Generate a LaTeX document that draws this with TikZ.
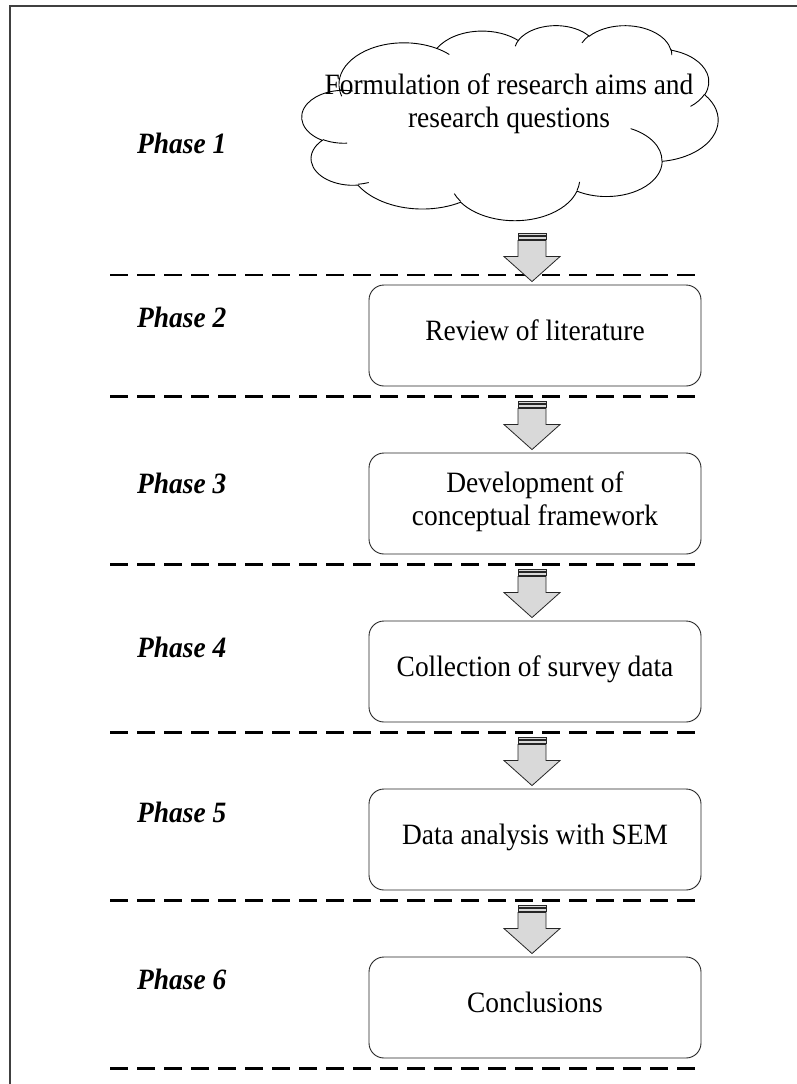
\documentclass[tikz,border=0pt]{standalone}
\usepackage{fontspec}
\setmainfont{Liberation Serif}[FakeStretch=0.93]
\usetikzlibrary{calc}
\newcommand\cldarc[4]{arc[x radius=#1, y radius=#2, start angle={atan2((#1)*sin(#3),(#2)*cos(#3))}, delta angle={mod(atan2((#1)*sin((#3)+(#4)),(#2)*cos((#3)+(#4)))-atan2((#1)*sin(#3),(#2)*cos(#3))+720,360)}]}
\tikzset{
  stepbox/.style={draw=black!85, line width=0.9pt, rounded corners=15pt, minimum width=332pt, minimum height=101pt, inner sep=0pt, align=center, font=\fontsize{29.5}{32.5}\selectfont, execute at end node={\rule[-10pt]{0pt}{0pt}}},
  phaselbl/.style={anchor=west, inner sep=0pt, font=\fontsize{29.5}{32.5}\selectfont\bfseries\itshape},
  divider/.style={line width=2.1pt, dash pattern=on 18pt off 9pt},
  frameline/.style={line width=1.2pt, draw=black!75},
  arrowfill/.style={fill=black!15, draw=black!85, line width=0.8pt},
  striped/.pic={
    \path[arrowfill] (-14,0) rectangle (14,1.8);
    \path[arrowfill] (-14,2.8) rectangle (14,5.6);
    \path[arrowfill] (-14,7) -- (-14,23) -- (-28,23) -- (0,48) -- (28,23) -- (14,23) -- (14,7) -- cycle;
  }
}
\begin{document}
\begin{tikzpicture}[x=1pt, y=-1pt]
\useasboundingbox (0,0) rectangle (797,1084);
% frame
\draw[frameline] (10,1084) -- (10,6) -- (797,6);
% cloud
\begin{scope}[shift={(302,25)}]
\begin{scope}[x=0.96296pt, y=-0.45139pt]
\draw[black, line width=0.9pt, fill=white] (39.00,143.70)
  \cldarc{67.53}{91.90}{-190.4875}{123.7805}
  \cldarc{53.33}{72.67}{-144.1024}{89.9452}
  \cldarc{43.65}{59.45}{-145.8079}{99.7230}
  \cldarc{48.57}{65.95}{-130.9861}{117.2417}
  \cldarc{53.33}{72.73}{-78.7089}{109.0269}
  \cldarc{67.75}{92.20}{-46.2673}{130.2690}
  \cldarc{57.85}{78.67}{0.6250}{114.0333}
  \cldarc{67.52}{92.15}{22.4516}{115.1726}
  \cldarc{77.20}{105.43}{66.2426}{75.7110}
  \cldarc{43.60}{59.18}{-274.9421}{146.7356}
  \cldarc{43.45}{59.45}{-246.8285}{166.4307}
  -- cycle;
\draw[black, line width=0.9pt]
  (46.93,261.77) \cldarc{43.45}{59.45}{86.7420}{26.4295}
  (69.28,348.99) \cldarc{43.60}{59.18}{73.6105}{11.4475}
  (164.78,390.90) \cldarc{67.52}{92.15}{137.6242}{14.0811}
  (288.27,347.51) \cldarc{67.52}{92.15}{6.4533}{15.9984}
  (341.29,229.54) \cldarc{57.85}{78.67}{-70.2924}{70.9174}
  (417.98,153.54) \cldarc{53.33}{72.73}{30.3180}{27.7515}
  (383.24,54.26) \cldarc{48.57}{65.95}{-13.7443}{14.8589}
  (290.78,39.52) \cldarc{48.57}{65.95}{-149.1815}{18.1954}
  (221.41,47.20) \cldarc{43.65}{59.45}{-163.4943}{17.6864}
  (140.00,51.92) \cldarc{67.53}{91.90}{-66.7070}{12.3194}
  (41.27,157.89) \cldarc{67.53}{91.90}{157.6544}{11.8582};
\end{scope}
\end{scope}
\node[align=center, inner sep=0pt, font=\fontsize{29.5}{32.5}\selectfont] (c1) at (509,104) {Formulation of research aims and\\research questions};
% boxes
\node[stepbox] (b2) at (535,335.5) {Review of literature};
\node[stepbox] (b3) at (535,503.5) {Development of\\conceptual framework};
\node[stepbox] (b4) at (535,671.5) {Collection of survey data};
\node[stepbox] (b5) at (535,839.5) {Data analysis with SEM};
\node[stepbox] (b6) at (535,1007.5) {Conclusions};
% phase labels
\node[phaselbl] (p1) at (137,143) {Phase 1};
\node[phaselbl] (p2) at (137,317) {Phase 2};
\node[phaselbl] (p3) at (137,483) {Phase 3};
\node[phaselbl] (p4) at (137,647) {Phase 4};
\node[phaselbl] (p5) at (137,812) {Phase 5};
\node[phaselbl] (p6) at (137,979) {Phase 6};
% dividers
\coordinate (d1) at ($(b2.north)+(0,-10)$);
\draw[divider] (110,0 |- d1) -- (697,0 |- d1);
\foreach \b in {b2,b3,b4,b5,b6}{
  \coordinate (dd) at ($(\b.south)+(0,10)$);
  \draw[divider] (110,0 |- dd) -- (697,0 |- dd);
}
% arrows
\foreach \b in {b2,b3,b4,b5,b6}{
  \path ($(\b.north)+(-3,-51)$) pic {striped};
}
\end{tikzpicture}
\end{document}
